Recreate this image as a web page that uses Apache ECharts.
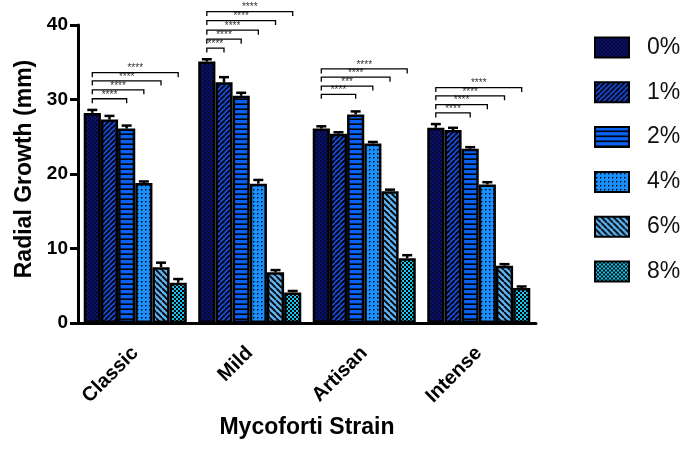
<!DOCTYPE html>
<html><head><meta charset="utf-8">
<script src="https://cdn.jsdelivr.net/npm/echarts@6/dist/echarts.min.js"></script>
<style>html,body{margin:0;padding:0;background:#fff}#c{width:681px;height:449px}</style>
</head><body><div id="c"></div>
<script>
var categories = ['Classic', 'Mild', 'Artisan', 'Intense'];
var seriesNames = ['0%', '1%', '2%', '4%', '6%', '8%'];
var pct0 = [28.2, 35.1, 26.1, 26.2];
var pct1 = [27.3, 32.3, 25.4, 25.9];
var pct2 = [26.1, 30.5, 28.0, 23.4];
var pct4 = [18.8, 18.7, 24.1, 18.6];
var pct6 = [7.5, 6.8, 17.7, 7.7];
var pct8 = [5.4, 4.1, 8.7, 4.7];
var err0 = [0.4, 0.3, 0.3, 0.5];
var err1 = [0.5, 0.7, 0.2, 0.3];
var err2 = [0.4, 0.4, 0.4, 0.2];
var err4 = [0.2, 0.5, 0.2, 0.3];
var err6 = [0.6, 0.3, 0.2, 0.2];
var err8 = [0.5, 0.2, 0.4, 0.2];
var yTicks = [0, 10, 20, 30, 40];
// brackets: [categoryIndex, targetBarIndex, height, label]
var bracketsClassic = [[0, 2, 30.1, '****'], [0, 3, 31.3, '****'], [0, 4, 32.5, '****'], [0, 5, 33.6, '****']];
var bracketsMild = [[1, 1, 36.9, '****'], [1, 2, 38.1, '****'], [1, 3, 39.3, '****'], [1, 4, 40.6, '****'], [1, 5, 41.8, '****']];
var bracketsArtisan = [[2, 2, 30.7, '****'], [2, 3, 31.8, '***'], [2, 4, 33.0, '****'], [2, 5, 34.1, '****']];
var bracketsIntense = [[3, 2, 28.2, '****'], [3, 3, 29.3, '****'], [3, 4, 30.5, '****'], [3, 5, 31.6, '****']];

var values = [pct0, pct1, pct2, pct4, pct6, pct8];
var errors = [err0, err1, err2, err4, err6, err8];

function makePattern(bg, w, h, draw) {
  var c = document.createElement('canvas');
  c.width = w; c.height = h;
  var ctx = c.getContext('2d');
  ctx.fillStyle = bg; ctx.fillRect(0, 0, w, h);
  ctx.fillStyle = '#000'; ctx.strokeStyle = '#000';
  draw(ctx, w, h);
  return c;
}
var patterns = [
  makePattern('#0b1068', 4, 4, function (ctx) { ctx.fillRect(0, 0, 1.3, 1.3); ctx.fillRect(2, 2, 1.3, 1.3); }),
  makePattern('#1a4ad6', 5, 5, function (ctx, w, h) {
    ctx.lineWidth = 1.7; ctx.beginPath();
    for (var k = -1; k <= 1; k++) { ctx.moveTo(k * w, h); ctx.lineTo(k * w + w, 0); }
    ctx.stroke();
  }),
  makePattern('#0a62f5', 5, 5, function (ctx) { ctx.fillRect(0, 3.4, 5, 1.6); }),
  makePattern('#1a90ff', 4, 4, function (ctx) { ctx.fillRect(1, 1, 1.4, 1.4); }),
  makePattern('#5cb0ee', 6, 6, function (ctx, w, h) {
    ctx.lineWidth = 1.8; ctx.beginPath();
    for (var k = -1; k <= 1; k++) { ctx.moveTo(k * w, 0); ctx.lineTo(k * w + w, h); }
    ctx.stroke();
  }),
  makePattern('#18c8f2', 4, 4, function (ctx) { ctx.fillRect(0, 0, 2, 2); ctx.fillRect(2, 2, 2, 2); })
];

var GAP = 0.10, NBARS = 6;
function barX(api, cat, idx) {
  var c = api.coord([cat, 0]);
  var band = api.size([1, 0])[0];
  var bw = band * (1 - GAP) / NBARS;
  return c[0] - band * (1 - GAP) / 2 + bw * (idx + 0.5);
}

var errData = [];
for (var s = 0; s < values.length; s++) {
  for (var i = 0; i < categories.length; i++) errData.push([i, s, values[s][i], errors[s][i]]);
}
var bracketData = [].concat(bracketsClassic, bracketsMild, bracketsArtisan, bracketsIntense);

var FONT = 'Arial, "Liberation Sans", sans-serif';
var series = seriesNames.map(function (n, k) {
  return {
    name: n, type: 'bar', data: values[k], barGap: '0%', barCategoryGap: '10%',
    itemStyle: { color: { image: patterns[k], repeat: 'repeat' }, borderColor: '#000', borderWidth: 2.5 },
    emphasis: { disabled: true }, z: 2
  };
});
series.push({
  type: 'custom', name: 'err', data: errData, z: 5, silent: true,
  encode: { x: 0, y: 2 },
  renderItem: function (params, api) {
    var cat = api.value(0), idx = api.value(1), m = api.value(2), e = api.value(3);
    var x = barX(api, cat, idx);
    var y0 = api.coord([cat, m])[1], y1 = api.coord([cat, m + e])[1];
    return { type: 'group', children: [
      { type: 'line', shape: { x1: x, y1: y0, x2: x, y2: y1 }, style: { stroke: '#000', lineWidth: 2.5 } },
      { type: 'line', shape: { x1: x - 5, y1: y1, x2: x + 5, y2: y1 }, style: { stroke: '#000', lineWidth: 2.5 } }
    ] };
  }
});
series.push({
  type: 'custom', name: 'sig', data: bracketData, z: 6, silent: true, clip: false,
  encode: { x: 0, y: 2 },
  renderItem: function (params, api) {
    var cat = api.value(0), to = api.value(1), h = api.value(2);
    var label = bracketData[params.dataIndex][3];
    var xa = barX(api, cat, 0), xb = barX(api, cat, to);
    var y = api.coord([cat, h])[1];
    return { type: 'group', children: [
      { type: 'polyline', shape: { points: [[xa, y + 4.5], [xa, y], [xb, y], [xb, y + 4.5]] }, style: { stroke: '#000', lineWidth: 1.3, fill: null } },
      { type: 'text', style: { text: label, x: (xa + xb) / 2, y: y + 1, align: 'center', verticalAlign: 'bottom', fill: '#333', font: '10px ' + FONT } }
    ] };
  }
});

var chart = echarts.init(document.getElementById('c'), null, { renderer: 'canvas' });
chart.setOption({
  animation: false,
  backgroundColor: '#fff',
  grid: { left: 78, width: 458, top: 25, bottom: 126, containLabel: false },
  legend: {
    data: seriesNames, orient: 'vertical', left: 594, top: 36, padding: 0,
    icon: 'rect', itemWidth: 34, itemHeight: 20, itemGap: 21.8, selectedMode: false,
    textStyle: { fontSize: 23, lineHeight: 20, color: '#111', fontFamily: FONT, padding: [0, 0, 0, 13] }
  },
  xAxis: {
    type: 'category', data: categories,
    name: 'Mycoforti Strain', nameLocation: 'middle', nameGap: 93,
    nameTextStyle: { fontSize: 23, fontWeight: 'bold', color: '#000', fontFamily: FONT },
    axisLine: { lineStyle: { color: '#000', width: 3 } },
    axisTick: { alignWithLabel: true, length: 9, lineStyle: { width: 3, color: '#000' } },
    axisLabel: { rotate: 45, fontSize: 20, fontWeight: 'bold', color: '#000', fontFamily: FONT, margin: 27 }
  },
  yAxis: {
    type: 'value', min: yTicks[0], max: yTicks[yTicks.length - 1], interval: 10,
    name: 'Radial Growth (mm)', nameLocation: 'middle', nameGap: 40,
    nameTextStyle: { fontSize: 23, fontWeight: 'bold', color: '#000', fontFamily: FONT, padding: [0, 0, 0, 10] },
    axisLine: { show: true, lineStyle: { color: '#000', width: 3 } },
    axisTick: { show: true, length: 8, lineStyle: { width: 3, color: '#000' } },
    axisLabel: { fontSize: 19, fontWeight: 'bold', color: '#000', fontFamily: FONT, margin: 10 },
    splitLine: { show: false }
  },
  series: series
});
</script></body></html>
